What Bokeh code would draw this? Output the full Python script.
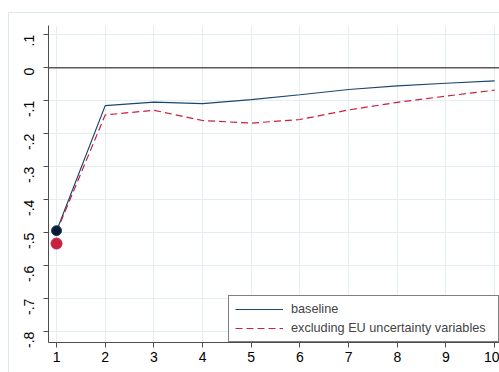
from bokeh.plotting import figure
from bokeh.models import Span, FixedTicker, Legend, LegendItem
from bokeh.embed import file_html
from bokeh.resources import INLINE
import math

# data
horizon = [1, 2, 3, 4, 5, 6, 7, 8, 9, 10]
baseline = [-0.495, -0.115, -0.104, -0.109, -0.097, -0.082, -0.066, -0.055, -0.047, -0.040]
excluding = [-0.498, -0.143, -0.129, -0.160, -0.168, -0.157, -0.128, -0.105, -0.086, -0.068]
impact_x = [1]
baseline_impact = [-0.494]
excluding_impact = [-0.533]
y_ticks = [-0.8, -0.7, -0.6, -0.5, -0.4, -0.3, -0.2, -0.1, 0.0, 0.1]
y_tick_labels = ["-.8", "-.7", "-.6", "-.5", "-.4", "-.3", "-.2", "-.1", "0", ".1"]
x_ticks = horizon
legend_labels = ["baseline", "excluding EU uncertainty variables"]

NAVY = "#1a476f"
RED = "#c8203e"
GRID = "#e3eef0"
AXIS = "#4d4d4d"
FONT = "Liberation Sans"

p = figure(width=490, height=359, x_range=(0.835, 10.12), y_range=(-0.833, 0.128),
           output_backend="svg", toolbar_location=None,
           min_border_left=39, min_border_top=12, min_border_bottom=31, min_border_right=0)
p.margin = (12, 0, 0, 8)
p.styles = {"border-left": "1px solid #dbe7ea", "border-top": "1px solid #dbe7ea",
            "box-sizing": "content-box"}
p.background_fill_color = "white"
p.border_fill_color = "white"
p.outline_line_color = None

for ax in (p.xaxis[0], p.yaxis[0]):
    ax.axis_line_color = AXIS
    ax.major_tick_line_color = AXIS
    ax.minor_tick_line_color = None
    ax.major_tick_out = 5
    ax.major_tick_in = 0
    ax.major_label_text_font = FONT
    ax.major_label_text_font_size = "14px"
    ax.major_label_text_color = "black"

p.xaxis.ticker = FixedTicker(ticks=x_ticks)
p.xaxis.major_label_standoff = 4
p.yaxis.ticker = FixedTicker(ticks=y_ticks)
p.yaxis.major_label_overrides = {t: l for t, l in zip(y_ticks, y_tick_labels)}
p.yaxis.major_label_orientation = math.pi / 2
p.yaxis.major_label_standoff = 14

p.xgrid.grid_line_color = GRID
p.ygrid.grid_line_color = GRID
p.xgrid.ticker = FixedTicker(ticks=x_ticks)
p.ygrid.ticker = FixedTicker(ticks=y_ticks)

p.add_layout(Span(location=0, dimension="width", line_color="#5a5a5a", line_width=1.6))

r1 = p.line(horizon, baseline, line_color=NAVY, line_width=1.2)
r2 = p.line(horizon, excluding, line_color=RED, line_width=1.2, line_dash="7 4")
p.scatter(impact_x, excluding_impact, size=11, fill_color=RED, line_color=RED)
p.scatter(impact_x, baseline_impact, size=10, fill_color="#0b1a2e", line_color=NAVY)

legend = Legend(items=[LegendItem(label=legend_labels[0], renderers=[r1]),
                       LegendItem(label=legend_labels[1], renderers=[r2])],
                location=(180, 0))
legend.margin = 0
legend.padding = 6
legend.spacing = 5
legend.glyph_width = 48
legend.glyph_height = 14
legend.label_height = 14
legend.label_width = 201
legend.label_standoff = 8
legend.label_text_font = FONT
legend.label_text_font_size = "12.7px"
legend.border_line_color = "black"
legend.border_line_width = 1
legend.background_fill_color = "white"
legend.background_fill_alpha = 1
p.add_layout(legend)

open("out.html", "w").write(file_html(p, INLINE))
